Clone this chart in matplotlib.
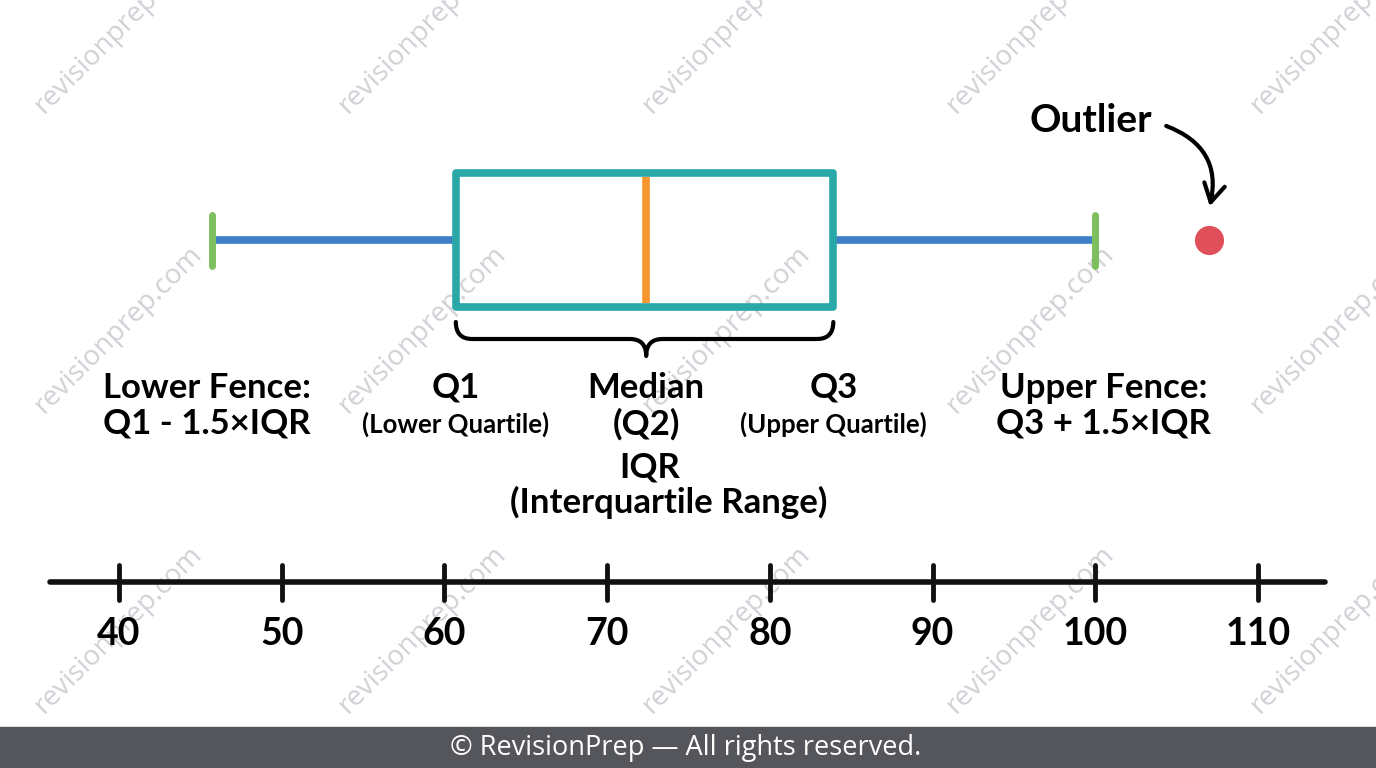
import numpy as np
import matplotlib.pyplot as plt
from matplotlib.path import Path
from matplotlib.patches import PathPatch, Rectangle

# five number summary + outlier
lower_fence = 45.7
q1 = 60.7
median = 72.4
q3 = 83.9
upper_fence = 100.0
outlier = 107.0
ticks = [40, 50, 60, 70, 80, 90, 100, 110]

label_font = ['Lato', 'DejaVu Sans']

fig = plt.figure(figsize=(13.76, 7.68), dpi=100)
ax = fig.add_axes([0, 0, 1, 1])
# x in data units, y in pixels from the top
px = (1258 - 119) / 70.0
ax.set_xlim(40 - 119 / px, 40 + (1376 - 119) / px)
ax.set_ylim(768, 0)
ax.axis('off')

# watermark grid
for wy in [30, 330, 630]:
    for wx in [118, 422, 726, 1030, 1334]:
        ax.text(40 + (wx - 119) / px, wy, 'revisionprep.com', rotation=45,
                fontsize=20, color='#cfd1d6', ha='center', va='center',
                family=['Open Sans', 'DejaVu Sans'], zorder=0)

yc = 240
# whiskers
ax.plot([lower_fence, q1], [yc, yc], color='#3f7fc6', lw=5.5, solid_capstyle='butt', zorder=2)
ax.plot([q3, upper_fence], [yc, yc], color='#3f7fc6', lw=5.5, solid_capstyle='butt', zorder=2)
# fences
for f in [lower_fence, upper_fence]:
    ax.plot([f, f], [215, 266], color='#7dbf5f', lw=5, solid_capstyle='round', zorder=3)
# box
box = Rectangle((q1, 173), q3 - q1, 134, fill=False, ec='#2aa8a8', lw=5.5,
                joinstyle='round', zorder=3)
ax.add_patch(box)
ax.plot([median, median], [177, 303], color='#f5962e', lw=5.5, solid_capstyle='butt', zorder=3)
# outlier
ax.plot([outlier], [yc], 'o', color='#e0505a', ms=21, mec='none', zorder=3)

# brace under the box
d = 1.0
verts = [(q1, 322), (q1, 339), (q1 + d, 339),
         (median - d, 339),
         (median, 339), (median, 356),
         (median, 339), (median + d, 339),
         (q3 - d, 339),
         (q3, 339), (q3, 322)]
codes = [Path.MOVETO, Path.CURVE3, Path.CURVE3, Path.LINETO,
         Path.CURVE3, Path.CURVE3, Path.CURVE3, Path.CURVE3,
         Path.LINETO, Path.CURVE3, Path.CURVE3]
ax.add_patch(PathPatch(Path(verts, codes), fill=False, ec='black', lw=3,
                       capstyle='round', joinstyle='round', zorder=3))

# outlier callout
ax.text(outlier - 7.3, 121, 'Outlier', fontsize=28, fontweight='bold',
        ha='center', va='center', family=label_font)
ax.annotate('', xy=(outlier, 209), xytext=(outlier - 2.8, 125),
            arrowprops=dict(arrowstyle='->,head_length=1.3,head_width=0.75', lw=3,
                            color='black', connectionstyle='arc3,rad=-0.45'))

# labels
big = 25
small = 18.5
def two_line(x, top, bottom, size2):
    ax.text(x, 388, top, fontsize=big, fontweight='bold', ha='center', va='center', family=label_font)
    ax.text(x, 424, bottom, fontsize=size2, fontweight='bold', ha='center', va='center', family=label_font)

two_line(lower_fence - 0.3, 'Lower Fence:', 'Q1 - 1.5×IQR', big)
two_line(q1, 'Q1', '(Lower Quartile)', small)
two_line(median, 'Median', '(Q2)', big)
two_line(q3, 'Q3', '(Upper Quartile)', small)
two_line(upper_fence + 0.5, 'Upper Fence:', 'Q3 + 1.5×IQR', big)
ax.text(median + 0.2, 467, 'IQR', fontsize=big, fontweight='bold', ha='center', va='center', family=label_font)
ax.text(median + 1.4, 502, '(Interquartile Range)', fontsize=big, fontweight='bold',
        ha='center', va='center', family=label_font)

# number line
ax.plot([40 - (119 - 50) / px, 40 + (1325 - 119) / px], [582, 582], color='#111111',
        lw=4, solid_capstyle='round', zorder=2)
for t in ticks:
    ax.plot([t, t], [565, 600], color='#111111', lw=3.5, solid_capstyle='round', zorder=2)
    ax.text(t, 634, str(t), fontsize=27, fontweight='bold', ha='center', va='center',
            family=label_font)

# footer
ax.add_patch(Rectangle((ax.get_xlim()[0], 727), 200, 50, color='#55565b', zorder=4))
ax.text(40 + (686 - 119) / px, 748, '© RevisionPrep — All rights reserved.', fontsize=19.5,
        color='white', ha='center', va='center', family=['Open Sans', 'DejaVu Sans'], zorder=5)

fig.savefig('out.png', dpi=100)
